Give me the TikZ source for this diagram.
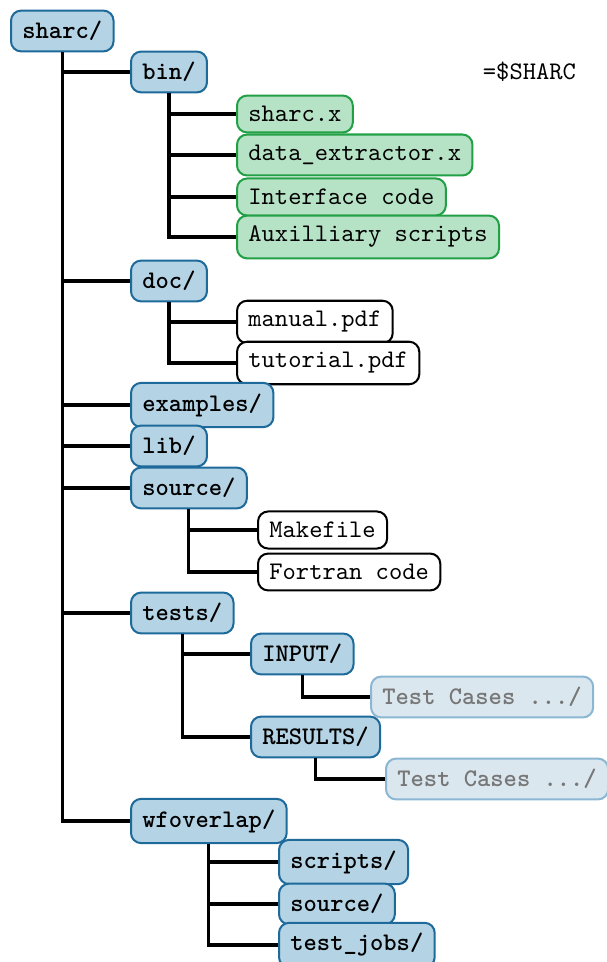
\documentclass[tikz,border=0pt]{standalone}
\usetikzlibrary{calc}
\definecolor{dirfill}{HTML}{B4D3E4}
\definecolor{dirdraw}{HTML}{1D6A9B}
\definecolor{exfill}{HTML}{B6E2C5}
\definecolor{exdraw}{HTML}{22A046}
\definecolor{fadefill}{HTML}{DBE7EF}
\definecolor{fadedraw}{HTML}{8CB7D2}
\definecolor{fadetext}{HTML}{777777}
\tikzset{
  item/.style={anchor=west, rounded corners=4pt, line width=0.8pt, inner xsep=4.5pt, inner ysep=4.2pt, font=\ttfamily},
  dirbox/.style={item, draw=dirdraw, fill=dirfill, font=\ttfamily\bfseries},
  exebox/.style={item, draw=exdraw, fill=exfill},
  filebox/.style={item, draw=black, fill=white},
  fadebox/.style={item, draw=fadedraw, fill=fadefill, text=fadetext, font=\ttfamily\bfseries},
  conn/.style={line width=1.2pt, draw=black},
}
\begin{document}
\begin{tikzpicture}[x=0.395pt, y=-0.395pt]
\useasboundingbox (0,0) rectangle (606,962);

\node[dirbox] (sharc) at (10,31) {sharc/};
\node[dirbox] (bin) at (130,72) {bin/};
\node[font=\ttfamily, anchor=west] (env) at (474,72) {=\$SHARC};
\node[exebox] (sharcx) at (236,114) {sharc.x};
\node[exebox] (dataex) at (236,155) {data\_extractor.x};
\node[exebox] (iface) at (236,197) {Interface code};
\node[exebox] (aux) at (236,237) {Auxilliary scripts};
\node[dirbox] (doc) at (130,281) {doc/};
\node[filebox] (manual) at (236,322) {manual.pdf};
\node[filebox] (tutorial) at (236,363) {tutorial.pdf};
\node[dirbox] (examples) at (130,405) {examples/};
\node[dirbox] (lib) at (130,446) {lib/};
\node[dirbox] (source) at (130,488) {source/};
\node[filebox] (makefile) at (257,530) {Makefile};
\node[filebox] (fortran) at (257,572) {Fortran code};
\node[dirbox] (tests) at (130,613) {tests/};
\node[dirbox] (input) at (250,654) {INPUT/};
\node[fadebox] (tc1) at (370,697) {Test Cases .../};
\node[dirbox] (results) at (250,737) {RESULTS/};
\node[fadebox] (tc2) at (385,779) {Test Cases .../};
\node[dirbox] (wfoverlap) at (130,821) {wfoverlap/};
\node[dirbox] (scripts) at (278,862) {scripts/};
\node[dirbox] (wsource) at (278,904) {source/};
\node[dirbox] (testjobs) at (278,945) {test\_jobs/};

% root
\draw[conn] (sharc.south) |- (wfoverlap.west);
\foreach \n in {bin,doc,examples,lib,source,tests}
  \draw[conn] (\n.west) -- (\n.west -| sharc.south);
% bin
\draw[conn] (bin.south) |- (aux.west);
\foreach \n in {sharcx,dataex,iface}
  \draw[conn] (\n.west) -- (\n.west -| bin.south);
% doc
\draw[conn] (doc.south) |- (tutorial.west);
\draw[conn] (manual.west) -- (manual.west -| doc.south);
% source
\draw[conn] (source.south) |- (fortran.west);
\draw[conn] (makefile.west) -- (makefile.west -| source.south);
% tests
\draw[conn] (tests.south) |- (results.west);
\draw[conn] (input.west) -- (input.west -| tests.south);
\draw[conn] (input.south) |- (tc1.west);
\draw[conn] (results.south) |- (tc2.west);
% wfoverlap
\draw[conn] (wfoverlap.south) |- (testjobs.west);
\foreach \n in {scripts,wsource}
  \draw[conn] (\n.west) -- (\n.west -| wfoverlap.south);
\end{tikzpicture}
\end{document}
